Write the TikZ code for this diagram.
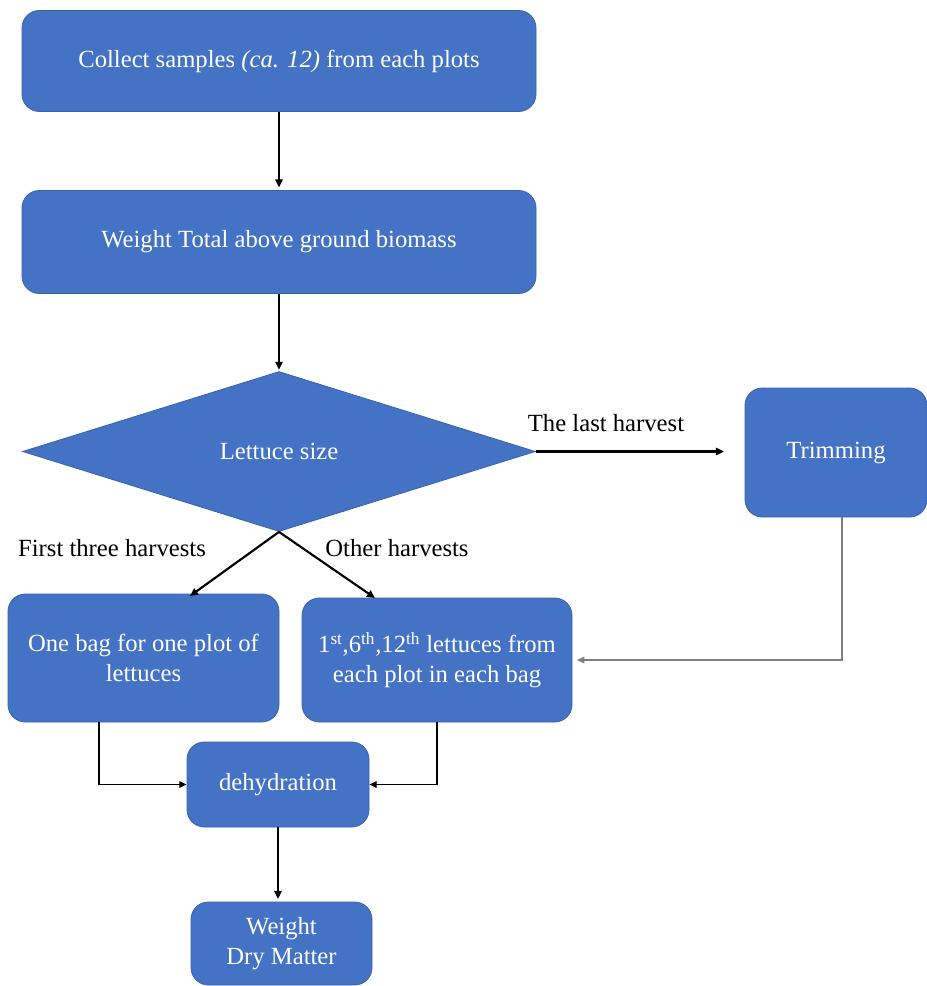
\documentclass[tikz,border=0pt]{standalone}
\usepackage{fontspec}
\setmainfont{Liberation Serif}[Ligatures=TeX]
\newfontfamily\timesfont{Liberation Serif}
\usetikzlibrary{shapes.geometric,arrows.meta}
\definecolor{boxblue}{HTML}{4472C4}
\definecolor{boxedge}{HTML}{3A62AC}
\definecolor{linegray}{HTML}{7F7F7F}
\begin{document}
\begin{tikzpicture}[x=0.75pt,y=-0.75pt,
  txt/.style={font=\timesfont\fontsize{18.5}{22.5}\selectfont},
  box/.style={txt, draw=boxedge, fill=boxblue, line width=0.6pt, rounded corners=13pt, text=white, align=center, inner sep=0pt},
  decision/.style={txt, diamond, draw=boxedge, fill=boxblue, line width=0.6pt, text=white, inner sep=0pt},
  lbl/.style={txt, text=black},
  arr/.style={line width=1.6pt, -{Triangle[length=6pt,width=5.5pt]}},
  thinarr/.style={line width=1pt, -{Triangle[length=5.5pt,width=5pt]}},
  grayarr/.style={line width=1.1pt, draw=linegray, -{Triangle[length=5.5pt,width=5pt]}}
]
\useasboundingbox (0,0) rectangle (927,986);

\node[box, minimum width=385.5pt, minimum height=75.75pt] (collect) at (279,61) {Collect samples \textit{(ca. 12)} from each plots};
\node[box, minimum width=385.5pt, minimum height=77.25pt] (weight) at (279,242) {Weight Total above ground biomass};
\node[decision, minimum width=384.75pt, minimum height=120pt] (size) at (279,451.5) {Lettuce size};
\node[box, minimum width=136.5pt, minimum height=96.75pt] (trim) at (836,452.5) {Trimming};
\node[box, minimum width=203.25pt, minimum height=96pt] (bag) at (143.5,658) {One bag for one plot of\\lettuces};
\node[box, minimum width=202.5pt, minimum height=93pt] (third) at (437,660) {1\textsuperscript{st},6\textsuperscript{th},12\textsuperscript{th} lettuces from\\each plot in each bag};
\node[box, minimum width=136.5pt, minimum height=63.75pt] (dehyd) at (278,784.5) {dehydration};
\node[box, minimum width=135.75pt, minimum height=62.25pt] (dry) at (281.5,943.5) {Weight\\Dry Matter};

\node[lbl] (lastlbl) at (606,423) {The last harvest};
\node[lbl] (firstlbl) at (112,548) {First three harvests};
\node[lbl] (otherlbl) at (397,548) {Other harvests};

\coordinate (bagin) at (190,596);
\coordinate (thirdin) at (375,598);
\coordinate (trimx) at (842,0);
\coordinate (bagx) at (99,0);

\draw[arr, shorten >=2pt] (collect.south) -- (weight.north);
\draw[arr, shorten >=1pt] (weight.south) -- (size.north);
\draw[arr, shorten >=15.5pt] (size.east) -- (size.east -| trim.west);
\draw[arr] (size.south) -- (bagin);
\draw[arr] (size.south) -- (thirdin);
\draw[grayarr, shorten >=3.5pt] (trim.south -| trimx) |- (third.east);
\draw[thinarr] (bag.south -| bagx) |- (dehyd.west);
\draw[thinarr] (third.south) |- (dehyd.east);
\draw[arr, shorten >=2pt] (dehyd.south) -- (dehyd.south |- dry.north);
\end{tikzpicture}
\end{document}
